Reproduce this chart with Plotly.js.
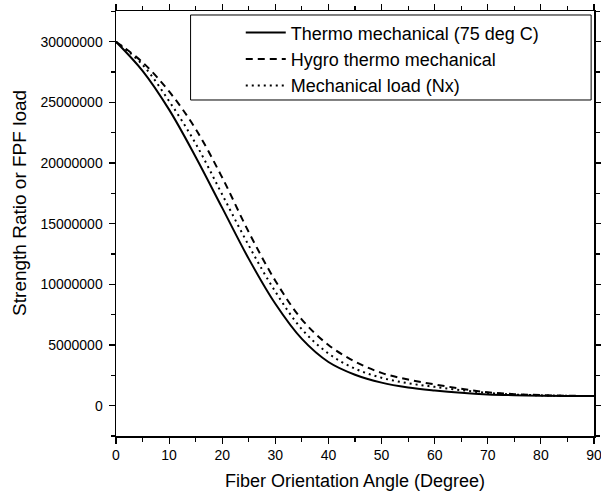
<!DOCTYPE html>
<html>
<head>
<meta charset="utf-8">
<script src="https://cdn.plot.ly/plotly-3.0.1.min.js"></script>
<style>html,body{margin:0;padding:0;background:#fff;}#chart{width:601px;height:497px;}</style>
</head>
<body>
<div id="chart"></div>
<script>
const angle = [0,5,10,15,20,25,30,35,40,45,50,55,60,65,70,75,80,85,90];
const thermoMechanical = [30.0e6,27.6e6,24.4e6,20.5e6,16.3e6,12.1e6,8.4e6,5.5e6,3.6e6,2.55e6,1.9e6,1.5e6,1.25e6,1.06e6,0.93e6,0.86e6,0.82e6,0.80e6,0.79e6];
const hygroThermoMechanical = [30.0e6,28.3e6,25.9e6,22.8e6,18.8e6,14.3e6,10.3e6,7.1e6,5.0e6,3.63e6,2.7e6,2.15e6,1.75e6,1.4e6,1.1e6,0.95e6,0.87e6,0.82e6,0.79e6];
const mechanicalLoad = [30.0e6,28.1e6,25.1e6,21.6e6,17.4e6,13.2e6,9.4e6,6.3e6,4.3e6,3.05e6,2.3e6,1.85e6,1.55e6,1.28e6,1.05e6,0.92e6,0.85e6,0.81e6,0.79e6];
const seriesNames = ['Thermo mechanical (75 deg C)','Hygro thermo mechanical','Mechanical load (Nx)'];
const yTicks = [0,5000000,10000000,15000000,20000000,25000000,30000000];
const xTicks = [0,10,20,30,40,50,60,70,80,90];
const xTitle = 'Fiber Orientation Angle (Degree)';
const yTitle = 'Strength Ratio or FPF load';

const font = 'Liberation Sans, Arial, sans-serif';
const traces = [
  {x: angle, y: thermoMechanical, name: seriesNames[0], mode: 'lines', line: {color: '#000', width: 2, shape: 'spline', smoothing: 1}},
  {x: angle, y: hygroThermoMechanical, name: seriesNames[1], mode: 'lines', line: {color: '#000', width: 2, dash: '7px,5px', shape: 'spline', smoothing: 1}},
  {x: angle, y: mechanicalLoad, name: seriesNames[2], mode: 'lines', line: {color: '#000', width: 2, dash: '2px,4px', shape: 'spline', smoothing: 1}}
];
const axisCommon = {
  showline: true, linecolor: '#000', linewidth: 1.5, mirror: 'allticks',
  ticks: 'outside', ticklen: 6, tickwidth: 1.2, tickcolor: '#000',
  showgrid: false, zeroline: false, ticklabeloverflow: 'allow',
  tickfont: {family: font, size: 14, color: '#000'}
};
const layout = {
  width: 601, height: 497,
  margin: {l: 116, r: 7, t: 11, b: 61},
  paper_bgcolor: '#fff', plot_bgcolor: '#fff',
  font: {family: font, color: '#000'},
  showlegend: true,
  xaxis: Object.assign({}, axisCommon, {
    range: [0, 90], tickvals: xTicks, ticktext: xTicks.map(String),
    minor: {dtick: 5, ticks: 'outside', ticklen: 4, tickcolor: '#000', tickwidth: 1.2},
    title: {text: xTitle, font: {family: font, size: 18, color: '#000'}, standoff: 12}
  }),
  yaxis: Object.assign({}, axisCommon, {
    range: [-2500000, 32530000], tickvals: yTicks, ticktext: yTicks.map(String),
    ticklabelstandoff: 3,
    minor: {dtick: 2500000, tick0: 0, ticks: 'outside', ticklen: 4, tickcolor: '#000', tickwidth: 1.2}
  }),
  annotations: [{
    text: yTitle, xref: 'paper', yref: 'paper', x: -0.2021, y: 0.5494,
    xanchor: 'center', yanchor: 'middle', textangle: -90, showarrow: false,
    font: {family: font, size: 19, color: '#000'}
  }],
  legend: {
    x: 0.261, y: 0.992, xanchor: 'left', yanchor: 'top',
    bgcolor: 'rgba(0,0,0,0)', borderwidth: 0,
    font: {family: font, size: 18, color: '#000'},
    tracegroupgap: 0, itemwidth: 40
  },
  shapes: [{type: 'rect', xref: 'paper', yref: 'paper', x0: 0.156, x1: 0.994, y0: 0.7906, y1: 0.9906, line: {color: '#000', width: 1}, fillcolor: 'rgba(0,0,0,0)', layer: 'below'}]
};
Plotly.newPlot('chart', traces, layout, {displayModeBar: false, staticPlot: true});
</script>
</body>
</html>
